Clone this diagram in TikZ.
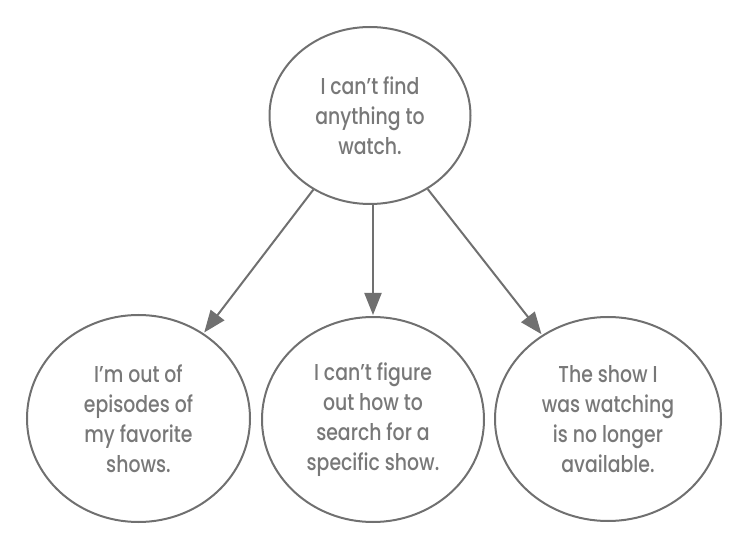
\documentclass[tikz,border=0pt]{standalone}
\usepackage{fontspec}
\setmainfont{Poppins}[UprightFont=* Medium, FakeStretch=0.82]
\usetikzlibrary{shapes.geometric,arrows.meta}
\definecolor{linegray}{RGB}{112,112,112}
\definecolor{textgray}{RGB}{120,120,120}
\tikzset{
  bubble/.style={ellipse, draw=linegray, line width=2pt, inner sep=0pt,
    align=center, text=textgray, font=\fontsize{23}{30}\selectfont},
  link/.style={draw=linegray, line width=2pt,
    -{Triangle[length=22pt,width=17pt]}, shorten >=1pt}
}
\begin{document}
\begin{tikzpicture}[x=1pt,y=-1pt]
\useasboundingbox (0,0) rectangle (739,537);
\node[bubble, minimum width=201pt, minimum height=177pt] (top) at (370,115.5)
  {I can’t find\\anything to\\watch.};
\node[bubble, minimum width=223pt, minimum height=207pt] (left) at (138.5,418.5)
  {I’m out of\\episodes of\\my favorite\\shows.};
\node[bubble, minimum width=222pt, minimum height=205pt] (mid) at (373,419.5)
  {I can’t figure\\out how to\\search for a\\specific show.};
\node[bubble, minimum width=226pt, minimum height=204pt] (right) at (608,419)
  {The show I\\was watching\\is no longer\\available.};
\draw[link] (top) -- (left);
\draw[link] (top.south -| mid.north) -- (mid.north);
\draw[link] (top) -- (right);
\end{tikzpicture}
\end{document}
